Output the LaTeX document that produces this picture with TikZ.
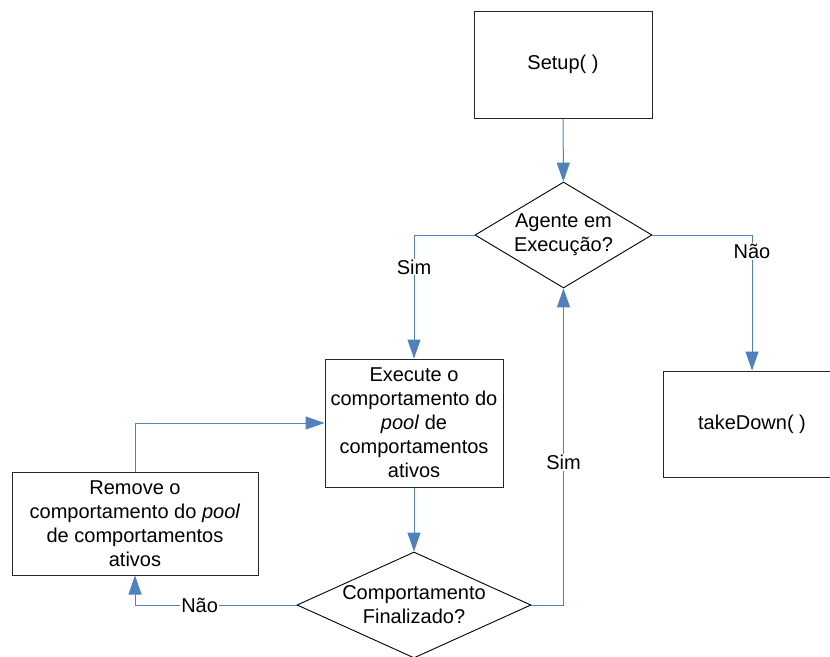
\documentclass[tikz,border=0pt]{standalone}
\usepackage{fontspec}
\setmainfont{Liberation Sans}
\usetikzlibrary{shapes.geometric,arrows.meta}
\definecolor{flowblue}{RGB}{79,129,189}

\begin{document}
\begin{tikzpicture}[x=1pt,y=-1pt,
    every node/.style={font=\fontsize{20}{24}\selectfont},
    box/.style={rectangle,draw=black!85,line width=1pt,align=center,inner sep=0pt},
    decision/.style={diamond,draw=black,line width=0.9pt,inner sep=0pt},
    flow/.style={draw=flowblue,line width=1pt,-{Triangle[length=19pt,width=13pt]}},
    answer/.style={fill=white,inner sep=1pt}]

        \useasboundingbox (0,0) rectangle (830,656);
        \clip (0,0) rectangle (830,656);

        \node[box,minimum width=178pt,minimum height=107pt] (setup) at (563,64.5) {Setup( )};
        \node[box,minimum width=178pt,minimum height=106pt] (takedown) at (752,424) {takeDown( )};
        \node[box,minimum width=178pt,minimum height=128pt] (exec) at (414,423)
          {Execute o\\comportamento do\\\textit{pool} de\\comportamentos\\ativos};
        \node[box,minimum width=246pt,minimum height=103pt] (remove) at (135,523.5)
          {Remove o\\comportamento do \textit{pool}\\de comportamentos\\ativos};

        \node[decision,minimum width=177pt,minimum height=106pt] (running) at (563.5,235) {};
        \node[align=center] (runningtxt) at (running) {Agente em\\Execução?};
        \node[decision,minimum width=234pt,minimum height=106pt] (finished) at (414,605) {};
        \node[align=center] (finishedtxt) at (finished) {Comportamento\\Finalizado?};

        \path[flow] (setup) -- (running);
        \path[flow] (running.west) -| node[answer,pos=0.63] {Sim} (exec.north);
        \path[flow] (running.east) -| node[answer,pos=0.56] {Não} (takedown.north);
        \path[flow] (exec) -- (finished);
        \path[flow] (finished.west) -| node[answer,pos=0.3] {Não} (remove.south);
        \path[flow] (finished.east) -| node[answer,pos=0.725] {Sim} (running.south);
        \path[flow] (remove.north) |- (exec.west);

      \end{tikzpicture}
\end{document}
